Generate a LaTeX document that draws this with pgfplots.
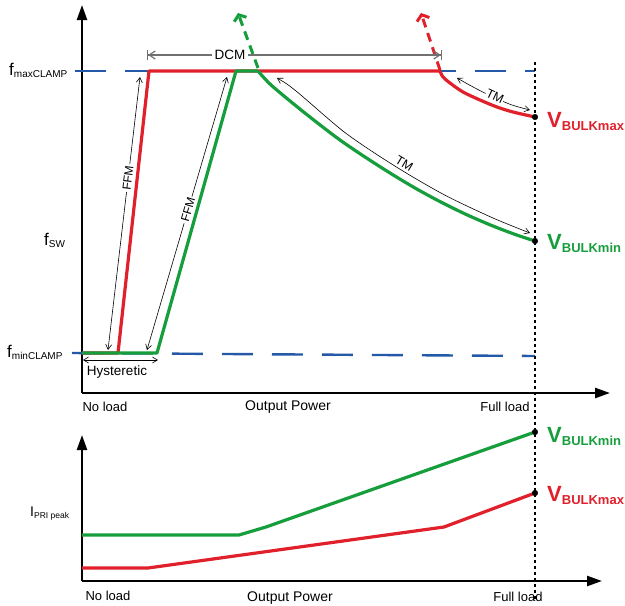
\documentclass[border=0pt]{standalone}
\usepackage{pgfplots}
\pgfplotsset{compat=1.18}
\usepackage{fontspec}
\setmainfont{Liberation Sans}
\usetikzlibrary{arrows.meta}
\definecolor{cred}{HTML}{E0202A}
\definecolor{cgreen}{HTML}{179E3C}
\definecolor{cblue}{HTML}{2459A8}
\definecolor{cgray}{HTML}{707070}
\newcommand{\lbl}[2]{{\fontsize{17}{17}\selectfont #1}{\fontsize{10}{10}\selectfont\raisebox{-2.5pt}{#2}}}
\newcommand{\vb}[1]{{\bfseries{\fontsize{22}{22}\selectfont V}{\fontsize{13}{13}\selectfont\raisebox{-3pt}{#1}}}}
\tikzset{thinarr/.style={black, line width=0.6pt, {Straight Barb[length=5pt,width=6pt]}-{Straight Barb[length=5pt,width=6pt]}}}
\begin{document}
\begin{tikzpicture}[x=1pt,y=1pt]
% ---------------- top axis ----------------
\begin{axis}[
  at={(82pt,-393pt)}, anchor=south west,
  x=1pt, y=1pt, xmin=82, xmax=610, ymin=-393, ymax=-5,
  axis lines=left, axis line style={line width=2.4pt},
  x axis line style={-{Triangle[length=15pt,width=10pt]}},
  y axis line style={-{Triangle[length=15pt,width=10pt]}},
  xtick=\empty, ytick=\empty, clip=false, enlargelimits=false,
  every axis plot/.append style={line join=round},
]
% clamps
\addplot[cblue, line width=2.4pt, dash pattern=on 31pt off 19pt] coordinates {(75,-71) (535,-71)};
\addplot[cblue, line width=2.4pt, dash pattern=on 31pt off 19pt] coordinates {(72,-353) (535,-356)};
% full-load marker line
\addplot[black, line width=1.1pt, dash pattern=on 3pt off 3pt] coordinates {(535,-62) (535,-600)};
% dashed escapes
\addplot[cgreen, line width=3pt, dash pattern=on 9pt off 6pt, -{Straight Barb[length=5pt,width=13pt]}] coordinates {(258,-68) (238,-13)};
\addplot[cred, line width=3pt, dash pattern=on 9pt off 6pt, -{Straight Barb[length=5pt,width=13pt]}] coordinates {(440,-70) (421,-13)};
% red (VBULKmax)
\addplot[cred, line width=3.2pt] coordinates {(82,-353) (118,-353) (149,-71) (440,-71)};
\addplot[cred, line width=3.2pt, smooth] coordinates {(440,-71) (443,-77) (450,-83) (463,-92) (480,-100) (497,-107) (513,-112) (535,-117)};
% green (VBULKmin)
\addplot[cgreen, line width=3.2pt] coordinates {(82,-353) (157,-353) (236,-71) (258,-71)};
\addplot[cgreen, line width=3.2pt, smooth] coordinates {(258,-71) (270,-84) (290,-101) (315,-121) (340,-140) (365,-157) (390,-173) (415,-188) (440,-201.6) (465,-213.9) (490,-224.8) (515,-234.4) (535,-241)};
\addplot[only marks, mark=*, mark size=2.8pt, black] coordinates {(535,-117) (535,-241)};
% DCM
\addplot[cgray, line width=1.2pt, {Bar[width=10pt]Straight Barb[length=6pt,width=8pt]}-{Straight Barb[length=6pt,width=8pt]Bar[width=10pt]}] coordinates {(147,-55) (442,-55)};
\node[fill=white, inner sep=3pt, font=\fontsize{13.5}{13.5}\selectfont] at (axis cs:230,-55) {DCM};
% FFM
\addplot[thinarr] coordinates {(108,-350) (140,-77)};
\node[rotate=83, fill=white, inner sep=1.5pt, font=\fontsize{12}{12}\selectfont] at (axis cs:128,-178) {FFM};
\addplot[thinarr] coordinates {(147,-350) (227,-77)};
\node[rotate=73.7, fill=white, inner sep=1.5pt, font=\fontsize{12}{12}\selectfont] at (axis cs:188,-210) {FFM};
% TM
\addplot[thinarr, smooth] coordinates {(277,-78) (296.5,-91.4) (345.3,-132.8) (394.5,-165.8) (443.7,-194.5) (492.8,-217.9) (530,-233)};
\node[rotate=-31, anchor=south, inner sep=2pt, font=\fontsize{12.5}{12.5}\selectfont] at (axis cs:401,-169) {TM};
\addplot[thinarr, smooth] coordinates {(457,-78) (475,-88) (493,-97) (512,-105) (530,-110)};
\node[rotate=-25, fill=white, inner sep=0.5pt, font=\fontsize{12.5}{12.5}\selectfont] at (axis cs:495,-96) {TM};
% Hysteretic
\addplot[thinarr] coordinates {(83,-360) (158,-360)};
\node[font=\fontsize{13.5}{13.5}\selectfont] at (axis cs:117,-372) {Hysteretic};
% left labels
\node[anchor=base west, inner sep=0pt] at (axis cs:9,-75) {\lbl{f}{maxCLAMP}};
\node[anchor=base west, inner sep=0pt] at (axis cs:44,-245) {\lbl{f}{SW}};
\node[anchor=base west, inner sep=0pt] at (axis cs:7,-357) {\lbl{f}{minCLAMP}};
% bottom texts
\node[font=\fontsize{13}{13}\selectfont] at (axis cs:105,-407) {No load};
\node[font=\fontsize{14}{14}\selectfont] at (axis cs:288,-407) {Output Power};
\node[font=\fontsize{13}{13}\selectfont] at (axis cs:505,-407) {Full load};
% V labels
\node[anchor=west, text=cred, inner sep=0pt] at (axis cs:547,-121) {\vb{BULKmax}};
\node[anchor=west, text=cgreen, inner sep=0pt] at (axis cs:547,-243) {\vb{BULKmin}};
\end{axis}
% ---------------- bottom axis ----------------
\begin{axis}[
  at={(82pt,-581pt)}, anchor=south west,
  x=1pt, y=1pt, xmin=82, xmax=602, ymin=-581, ymax=-435,
  axis lines=left, axis line style={line width=2.4pt},
  x axis line style={-{Triangle[length=15pt,width=10pt]}},
  y axis line style={-{Triangle[length=15pt,width=10pt]}},
  xtick=\empty, ytick=\empty, clip=false, enlargelimits=false,
  every axis plot/.append style={line join=round},
]
\addplot[cgreen, line width=3.2pt] coordinates {(82,-535) (239,-535) (266,-527) (535,-432)};
\addplot[cred, line width=3.2pt] coordinates {(82,-568) (148,-568) (444,-527) (535,-493)};
\addplot[only marks, mark=*, mark size=2.8pt, black] coordinates {(535,-432) (535,-493)};
\node[anchor=base west, inner sep=0pt] at (axis cs:30,-516) {{\fontsize{14}{14}\selectfont I}{\fontsize{8.5}{8.5}\selectfont\raisebox{-2.5pt}{PRI peak}}};
\node[font=\fontsize{13}{13}\selectfont] at (axis cs:108,-596) {No load};
\node[font=\fontsize{14}{14}\selectfont] at (axis cs:290,-598) {Output Power};
\node[font=\fontsize{13}{13}\selectfont] at (axis cs:518,-597) {Full load};
\node[anchor=west, text=cgreen, inner sep=0pt] at (axis cs:547,-436) {\vb{BULKmin}};
\node[anchor=west, text=cred, inner sep=0pt] at (axis cs:547,-495) {\vb{BULKmax}};
\end{axis}
\pgfresetboundingbox
\path[use as bounding box] (0,0) rectangle (625,-606);
\end{tikzpicture}
\end{document}
